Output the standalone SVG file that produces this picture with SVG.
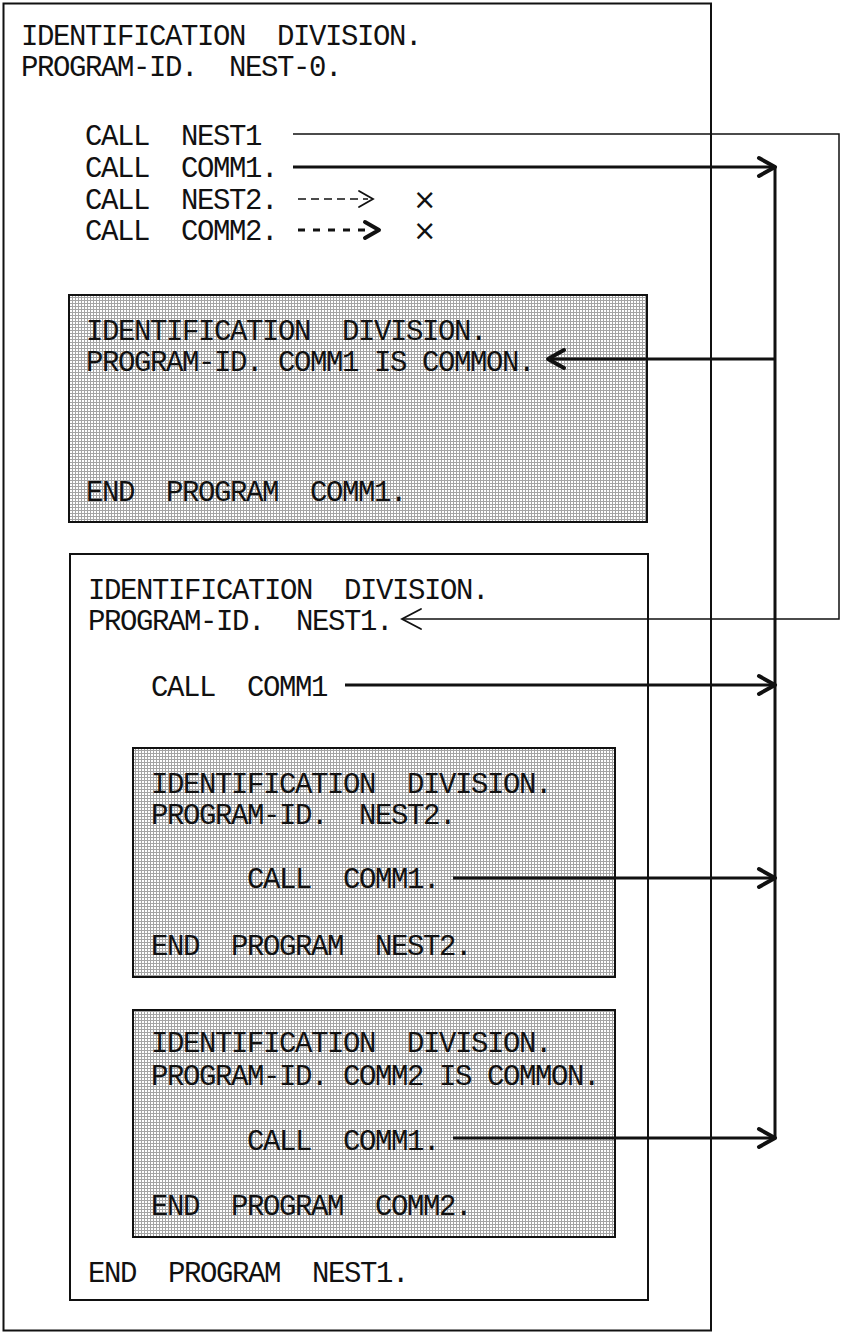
<svg xmlns="http://www.w3.org/2000/svg" width="842" height="1334" viewBox="0 0 842 1334" xml:space="preserve">
<defs>
<pattern id="dots" width="3" height="3" patternUnits="userSpaceOnUse">
<rect width="3" height="3" fill="#ffffff"/>
<rect width="3" height="1" fill="#a4a4a4"/>
<rect width="1" height="3" fill="#a4a4a4"/>
</pattern>
</defs>
<style>
text{font-family:"Liberation Mono","DejaVu Sans Mono",monospace;font-size:29px;letter-spacing:-1.4px;fill:#111;white-space:pre}
.x{font-family:"DejaVu Sans",sans-serif;font-size:28px;letter-spacing:0}
.box{fill:#fff;stroke:#111;stroke-width:2}
.shade{fill:url(#dots);stroke:#111;stroke-width:2}
.thin{fill:none;stroke:#111;stroke-width:1.5}
.thick{fill:none;stroke:#111;stroke-width:3}
.head{fill:none;stroke:#111;stroke-width:4;stroke-linecap:round;stroke-linejoin:round}
.headthin{fill:none;stroke:#111;stroke-width:1.8;stroke-linecap:round;stroke-linejoin:miter}
</style>
<rect width="842" height="1334" fill="#fff"/>

<g id="nest0">
<rect class="box" x="3.5" y="3.5" width="707.5" height="1327" stroke-width="2.5"/>
<text x="21" y="45">IDENTIFICATION  DIVISION.</text>
<text x="21" y="76">PROGRAM-ID.  NEST-0.</text>
<text x="85" y="145">CALL  NEST1</text>
<text x="85" y="177">CALL  COMM1.</text>
<text x="85" y="209">CALL  NEST2.</text>
<text x="85" y="240">CALL  COMM2.</text>
<text class="x" x="413" y="209">×</text>
<text class="x" x="413" y="240">×</text>
</g>

<g id="comm1">
<rect class="shade" x="69" y="295" width="578" height="227"/>
<text x="86" y="340">IDENTIFICATION  DIVISION.</text>
<text x="86" y="371">PROGRAM-ID. COMM1 IS COMMON.</text>
<text x="86" y="501">END  PROGRAM  COMM1.</text>
</g>

<g id="nest1">
<rect class="box" x="70" y="554" width="578" height="746"/>
<text x="88" y="599">IDENTIFICATION  DIVISION.</text>
<text x="88" y="630">PROGRAM-ID.  NEST1.</text>
<text x="151" y="696">CALL  COMM1</text>
<text x="88" y="1282">END  PROGRAM  NEST1.</text>
</g>

<g id="nest2">
<rect class="shade" x="133" y="748" width="482" height="229"/>
<text x="151" y="793">IDENTIFICATION  DIVISION.</text>
<text x="151" y="824">PROGRAM-ID.  NEST2.</text>
<text x="247" y="888">CALL  COMM1.</text>
<text x="151" y="955">END  PROGRAM  NEST2.</text>
</g>

<g id="comm2">
<rect class="shade" x="133" y="1010" width="482" height="227"/>
<text x="151" y="1052">IDENTIFICATION  DIVISION.</text>
<text x="151" y="1085">PROGRAM-ID. COMM2 IS COMMON.</text>
<text x="247" y="1150">CALL  COMM1.</text>
<text x="151" y="1215">END  PROGRAM  COMM2.</text>
</g>

<g id="connectors">
<path class="thin" d="M293,134 H839 V619 H402"/>
<path class="headthin" d="M421,609 L402,619 L421,629"/>
<path class="thick" d="M293,167 H775"/>
<path class="thick" d="M775,167 V1138"/>
<path class="head" d="M759,158 L775,167 L759,176"/>
<path class="thick" d="M775,359 H548"/>
<path class="head" d="M564,350 L548,359 L564,368"/>
<path class="thick" d="M345,685 H775"/>
<path class="head" d="M759,676 L775,685 L759,694"/>
<path class="thick" d="M453,878 H775"/>
<path class="head" d="M759,869 L775,878 L759,887"/>
<path class="thick" d="M453,1138 H775"/>
<path class="head" d="M759,1129 L775,1138 L759,1147"/>
<path class="thin" d="M298,199 H368" stroke-dasharray="8 5"/>
<path class="headthin" d="M359,191 L373,199 L359,207"/>
<path class="thick" d="M298,230 H372" stroke-dasharray="7 8" stroke-width="3.5"/>
<path class="head" d="M365,222 L379,230 L365,238"/>
</g>
</svg>
